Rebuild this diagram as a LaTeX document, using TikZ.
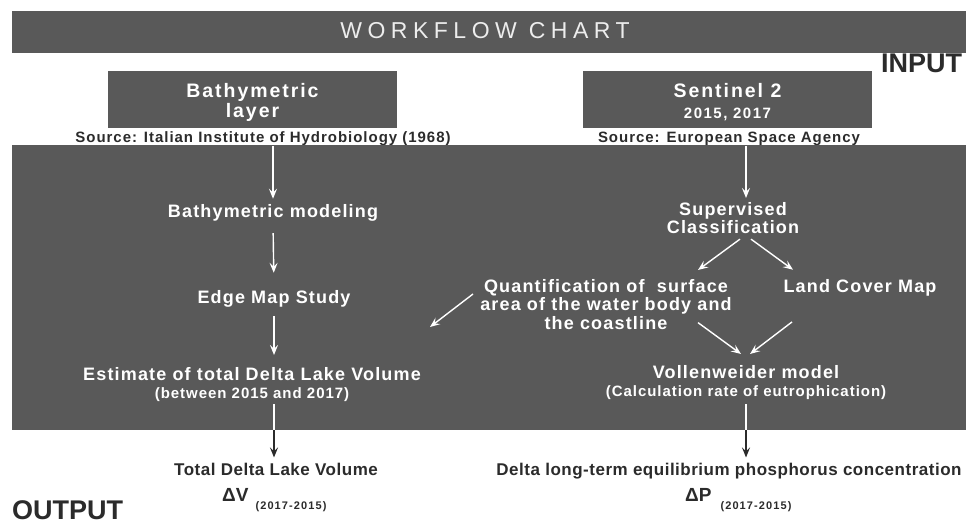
\documentclass[tikz,border=0pt]{standalone}
\usepackage{fontspec}
\setmainfont{Liberation Sans}
\newfontfamily\titlefont[LetterSpace=24]{Liberation Sans}
\newfontfamily\stepfont[LetterSpace=6.5]{Liberation Sans}
\newfontfamily\boxfont[LetterSpace=10]{Liberation Sans}
\newfontfamily\labelfont[LetterSpace=3]{Liberation Sans}
\usetikzlibrary{arrows.meta, calc}

\definecolor{chartgray}{HTML}{595959}
\definecolor{titlewhite}{HTML}{EDEDED}
\definecolor{inkgray}{HTML}{2B2B2B}

\tikzset{
  flowarrow/.style={white, line width=1.4pt, -{Stealth[length=10pt, width=8pt, inset=4pt]}},
  outarrow/.style={inkgray, line width=1.4pt, -{Stealth[length=10pt, width=8pt, inset=4pt]}},
  steptext/.style={text=white, inner sep=0pt, align=center,
    font=\stepfont\bfseries\fontsize{18}{18.5}\selectfont},
  inputbox/.style={fill=chartgray, text=white, inner sep=0pt, align=center,
    minimum width=289pt, minimum height=57pt,
    font=\boxfont\bfseries\fontsize{19.5}{19}\selectfont},
  sourcetext/.style={text=inkgray, inner sep=0pt, anchor=base,
    font=\stepfont\bfseries\fontsize{15}{15}\selectfont},
  outtext/.style={text=inkgray, inner sep=0pt, anchor=base,
    font=\labelfont\bfseries\fontsize{17}{17}\selectfont},
  deltatext/.style={text=inkgray, inner sep=0pt, anchor=base west,
    font=\bfseries\fontsize{19}{19}\selectfont},
  headtext/.style={text=inkgray, inner sep=0pt, anchor=base west,
    font=\bfseries\fontsize{27}{27}\selectfont}
}
% small period label next to the deltas
\newcommand{\periodlabel}{\raisebox{-8pt}{\boxfont\fontsize{11}{11}\selectfont (2017-2015)}}

\begin{document}
\begin{tikzpicture}[x=1pt, y=-1pt]
\useasboundingbox (0,0) rectangle (966,521);
\fill[white] (0,0) rectangle (966,521);
% Title bar
\fill[chartgray] (12,11) rectangle (966,53);
\node[text=titlewhite, inner sep=0pt, anchor=base,
  font=\titlefont\fontsize{23}{23}\selectfont] (title) at (485,39) {WORKFLOW CHART};
\node[headtext] (input) at (881,73) {INPUT};
% Input boxes and their sources
\node[inputbox] (bathbox) at (252.5,99.5) {\rule{0pt}{20pt}Bathymetric\\[1pt]layer};
\node[inputbox] (sentbox) at (727.5,99.5)
  {\rule{0pt}{19pt}Sentinel 2\\[2pt]{\fontsize{15}{15}\selectfont 2015, 2017}};
\node[sourcetext] (bathsrc) at (263,143) {Source: Italian Institute of Hydrobiology (1968)};
\node[sourcetext] (eursrc) at (729,143) {Source: European Space Agency};
% Processing panel
\coordinate (panelnw) at (12,145);
\coordinate (panelse) at (966,430);
\fill[chartgray] (panelnw) rectangle (panelse);
% Left column
\node[steptext, anchor=base] (bathmod) at (273,218) {Bathymetric modeling};
\node[steptext, anchor=base] (edge) at (274,303) {Edge Map Study};
\node[steptext, anchor=north] (est) at (252,367)
  {Estimate of total Delta Lake Volume\\{\fontsize{15}{15}\selectfont (between 2015 and 2017)}};
% Right column
\node[steptext, anchor=north] (sup) at (733,202) {Supervised\\Classification};
\node[steptext, anchor=north] (quant) at (606,279)
  {Quantification of~ surface\\area of the water body and\\the coastline};
\node[steptext, anchor=base] (land) at (860,292) {Land Cover Map};
\node[steptext, anchor=north] (voll) at (746,365)
  {Vollenweider model\\{\fontsize{15}{15}\selectfont (Calculation rate of eutrophication)}};
\coordinate (quanttip) at (430,327);
% Outputs
\node[outtext] (totvol) at (276,475) {Total Delta Lake Volume};
\node[outtext] (dltp) at (729,475) {Delta long-term equilibrium phosphorus concentration};
\node[deltatext] (dv) at (222,501) {ΔV\hspace{7pt}\periodlabel};
\node[deltatext] (dp) at (685,501) {ΔP\hspace{9pt}\periodlabel};
\node[headtext] (output) at (12,519) {OUTPUT};
% Arrows of the left column
\draw[flowarrow, shorten >=6pt] (bathmod.north |- bathsrc.south) -- (bathmod.north);
\draw[flowarrow, shorten <=11pt, shorten >=17pt] (bathmod.south) -- (edge.north);
\draw[flowarrow, shorten <=9pt, shorten >=12pt] (edge.south) -- (edge.south |- est.north);
\draw[white, line width=1.4pt, shorten <=2pt] (edge.south |- est.south) -- (edge.south |- panelse);
\draw[outarrow, shorten >=5pt] (edge.south |- panelse) -- (edge.south |- totvol.north);
% Arrows of the right column
\draw[flowarrow, shorten >=4pt] (voll.north |- eursrc.south) -- (voll.north |- sup.north);
\draw[flowarrow] ($(sup.south)+(7,5)$) -- ($(quant.north)+(92,-9)$);
\draw[flowarrow] ($(sup.south)+(18,5)$) -- ($(land.north)+(-67,-9)$);
\draw[flowarrow] ($(quant.south)+(92,-7)$) -- ($(voll.north)+(-5,-11)$);
\draw[flowarrow] ($(land.south)+(-68,26)$) -- ($(voll.north)+(4,-11)$);
\draw[flowarrow] ($(quant.north)+(-133,15)$) -- (quanttip);
\draw[white, line width=1.4pt, shorten <=4pt] (voll.south) -- (voll.south |- panelse);
\draw[outarrow, shorten >=5pt] (voll.south |- panelse) -- (voll.south |- dltp.north);
\end{tikzpicture}
\end{document}
